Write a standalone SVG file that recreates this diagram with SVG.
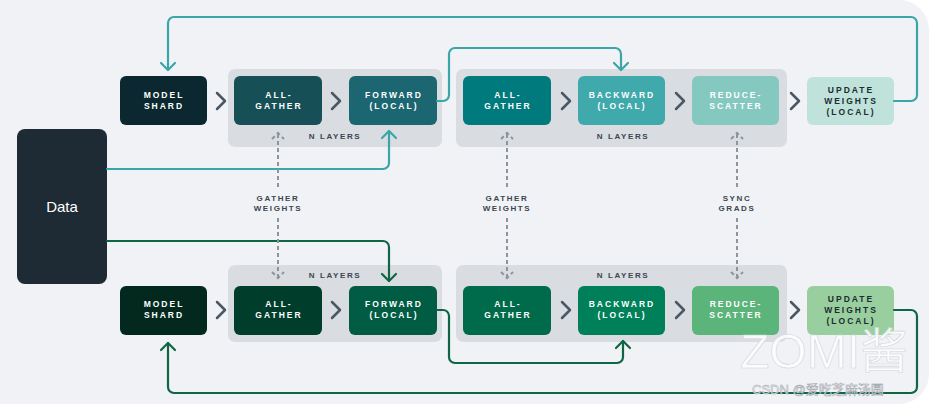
<svg xmlns="http://www.w3.org/2000/svg" width="929" height="404" viewBox="0 0 929 404">
<defs>
<style>
.lbl{font-family:"Liberation Sans",Arial,sans-serif;font-weight:bold;font-size:8.5px;letter-spacing:2px;text-anchor:middle;fill:#ffffff}
.dk{fill:#1e2b35}
.cap{font-family:"Liberation Sans",Arial,sans-serif;font-weight:bold;font-size:8px;letter-spacing:1.6px;text-anchor:middle;fill:#3a4650}
.grp{fill:#d9dde1}
.chev{fill:none;stroke:#4a5866;stroke-width:2.5;stroke-linecap:round;stroke-linejoin:round}
.teal{fill:none;stroke:#3aa6a8;stroke-width:2.2;stroke-linecap:round;stroke-linejoin:round}
.green{fill:none;stroke:#0f6645;stroke-width:2.2;stroke-linecap:round;stroke-linejoin:round}
.dash{fill:none;stroke:#8d949c;stroke-width:2;stroke-dasharray:4 3}
</style>
</defs>
<rect x="0" y="0" width="929" height="404" fill="#ffffff"/>
<rect x="-40" y="0" width="969" height="404" rx="30" fill="#f1f2f6"/>

<g id="groups">
<rect class="grp" x="228" y="69" width="214" height="78" rx="7"/>
<rect class="grp" x="456" y="69" width="331" height="78" rx="7"/>
<rect class="grp" x="228" y="265" width="214" height="77" rx="7"/>
<rect class="grp" x="456" y="265" width="331" height="77" rx="7"/>
<text class="cap" x="335" y="139">N LAYERS</text>
<text class="cap" x="623" y="139">N LAYERS</text>
<text class="cap" x="335" y="278">N LAYERS</text>
<text class="cap" x="623" y="278">N LAYERS</text>
</g>

<g id="data">
<rect x="17" y="129" width="90" height="155" rx="8" fill="#1e2b35"/>
<text x="62" y="212" font-family="'Liberation Sans',Arial,sans-serif" font-size="15" fill="#ffffff" text-anchor="middle">Data</text>
</g>

<g id="top-model-shard">
<rect x="120" y="76" width="87" height="49" rx="6" fill="#0b2730"/>
<text class="lbl" x="164" y="98">MODEL</text><text class="lbl" x="164" y="109">SHARD</text>
</g>
<g id="top-all-gather-1">
<rect x="234" y="76" width="88" height="49" rx="6" fill="#174f57"/>
<text class="lbl" x="279" y="98">ALL-</text><text class="lbl" x="279" y="109">GATHER</text>
</g>
<g id="top-forward">
<rect x="349" y="76" width="88" height="49" rx="6" fill="#1b6670"/>
<text class="lbl" x="394" y="98">FORWARD</text><text class="lbl" x="394" y="109">(LOCAL)</text>
</g>
<g id="top-all-gather-2">
<rect x="463" y="76" width="88" height="49" rx="6" fill="#007a7d"/>
<text class="lbl" x="508" y="98">ALL-</text><text class="lbl" x="508" y="109">GATHER</text>
</g>
<g id="top-backward">
<rect x="578" y="76" width="87" height="49" rx="6" fill="#3fa9ab"/>
<text class="lbl" x="622" y="98">BACKWARD</text><text class="lbl" x="622" y="109">(LOCAL)</text>
</g>
<g id="top-reduce-scatter">
<rect x="692" y="76" width="87" height="49" rx="6" fill="#85c8c0"/>
<text class="lbl" x="736" y="98">REDUCE-</text><text class="lbl" x="736" y="109">SCATTER</text>
</g>
<g id="top-update">
<rect x="807" y="77" width="87" height="48" rx="6" fill="#bfe3da"/>
<text class="lbl dk" x="851" y="93">UPDATE</text><text class="lbl dk" x="851" y="104">WEIGHTS</text><text class="lbl dk" x="851" y="115">(LOCAL)</text>
</g>

<g id="bot-model-shard">
<rect x="120" y="286" width="87" height="49" rx="6" fill="#03291f"/>
<text class="lbl" x="164" y="307">MODEL</text><text class="lbl" x="164" y="318">SHARD</text>
</g>
<g id="bot-all-gather-1">
<rect x="234" y="286" width="88" height="49" rx="6" fill="#003d2b"/>
<text class="lbl" x="279" y="307">ALL-</text><text class="lbl" x="279" y="318">GATHER</text>
</g>
<g id="bot-forward">
<rect x="349" y="286" width="88" height="49" rx="6" fill="#005c42"/>
<text class="lbl" x="394" y="307">FORWARD</text><text class="lbl" x="394" y="318">(LOCAL)</text>
</g>
<g id="bot-all-gather-2">
<rect x="463" y="286" width="88" height="49" rx="6" fill="#006b4a"/>
<text class="lbl" x="508" y="307">ALL-</text><text class="lbl" x="508" y="318">GATHER</text>
</g>
<g id="bot-backward">
<rect x="578" y="286" width="87" height="49" rx="6" fill="#008059"/>
<text class="lbl" x="622" y="307">BACKWARD</text><text class="lbl" x="622" y="318">(LOCAL)</text>
</g>
<g id="bot-reduce-scatter">
<rect x="692" y="286" width="87" height="49" rx="6" fill="#5bb47a"/>
<text class="lbl" x="736" y="307">REDUCE-</text><text class="lbl" x="736" y="318">SCATTER</text>
</g>
<g id="bot-update">
<rect x="807" y="286" width="87" height="49" rx="6" fill="#99cf9e"/>
<text class="lbl dk" x="851" y="302">UPDATE</text><text class="lbl dk" x="851" y="313">WEIGHTS</text><text class="lbl dk" x="851" y="324">(LOCAL)</text>
</g>

<g id="connectors">
<g id="chevrons">
<polyline class="chev" points="217,93 225,101 217,109"/>
<polyline class="chev" points="332,93 340,101 332,109"/>
<polyline class="chev" points="562,93 570,101 562,109"/>
<polyline class="chev" points="676,93 684,101 676,109"/>
<polyline class="chev" points="791,93 799,101 791,109"/>
<polyline class="chev" points="217,302 225,310 217,318"/>
<polyline class="chev" points="332,302 340,310 332,318"/>
<polyline class="chev" points="562,302 570,310 562,318"/>
<polyline class="chev" points="676,302 684,310 676,318"/>
<polyline class="chev" points="791,302 799,310 791,318"/>
</g>
<path class="teal" d="M894,101 H911 A6,6 0 0 0 917,95 V23 A6,6 0 0 0 911,17 H174 A6,6 0 0 0 168,23 V70"/>
<polyline class="teal" points="161,63 168,70 175,63"/>
<path class="teal" d="M437,101 H443 A6,6 0 0 0 449,95 V54 A6,6 0 0 1 455,48 H615 A6,6 0 0 1 621,54 V70"/>
<polyline class="teal" points="614,63 621,70 628,63"/>
<path class="teal" d="M107,169 H383 A6,6 0 0 0 389,163 V131"/>
<polyline class="teal" points="382,138 389,131 396,138"/>
<path class="green" d="M107,241 H383 A6,6 0 0 1 389,247 V281"/>
<polyline class="green" points="382,274 389,281 396,274"/>
<path class="green" d="M437,310 H443 A6,6 0 0 1 449,316 V357 A6,6 0 0 0 455,363 H617 A6,6 0 0 0 623,357 V341"/>
<polyline class="green" points="616,348 623,341 630,348"/>
<path class="green" d="M894,310 H911 A6,6 0 0 1 917,316 V387 A6,6 0 0 1 911,393 H174 A6,6 0 0 1 168,387 V343"/>
<polyline class="green" points="161,350 168,343 175,350"/>
<g id="sync-arrows">
<path class="dash" d="M278,134 V188 M278,218 V277"/>
<polyline class="dash" stroke-dasharray="3 2" points="272,139 278,133 284,139"/>
<polyline class="dash" stroke-dasharray="3 2" points="272,272 278,278 284,272"/>
<path class="dash" d="M507,134 V188 M507,218 V277"/>
<polyline class="dash" stroke-dasharray="3 2" points="501,139 507,133 513,139"/>
<polyline class="dash" stroke-dasharray="3 2" points="501,272 507,278 513,272"/>
<path class="dash" d="M737,134 V188 M737,218 V277"/>
<polyline class="dash" stroke-dasharray="3 2" points="731,139 737,133 743,139"/>
<polyline class="dash" stroke-dasharray="3 2" points="731,272 737,278 743,272"/>
</g>
<text class="cap" x="278" y="201">GATHER</text><text class="cap" x="278" y="211">WEIGHTS</text>
<text class="cap" x="507" y="201">GATHER</text><text class="cap" x="507" y="211">WEIGHTS</text>
<text class="cap" x="737" y="201">SYNC</text><text class="cap" x="737" y="211">GRADS</text>
</g>

<g id="watermark">
<text x="740" y="368" font-family="'Liberation Sans','Noto Sans CJK SC',sans-serif" font-size="48" fill="#ffffff" fill-opacity="0.85" stroke="#d0d4da" stroke-width="0.6">ZOMI酱</text>
<text x="752" y="394" font-family="'Liberation Sans','Noto Sans CJK SC',sans-serif" font-size="13" fill="#ffffff" fill-opacity="0.85" stroke="#9aa0a8" stroke-width="0.5">CSDN @爱吃芝麻汤圆</text>
</g>
</svg>
